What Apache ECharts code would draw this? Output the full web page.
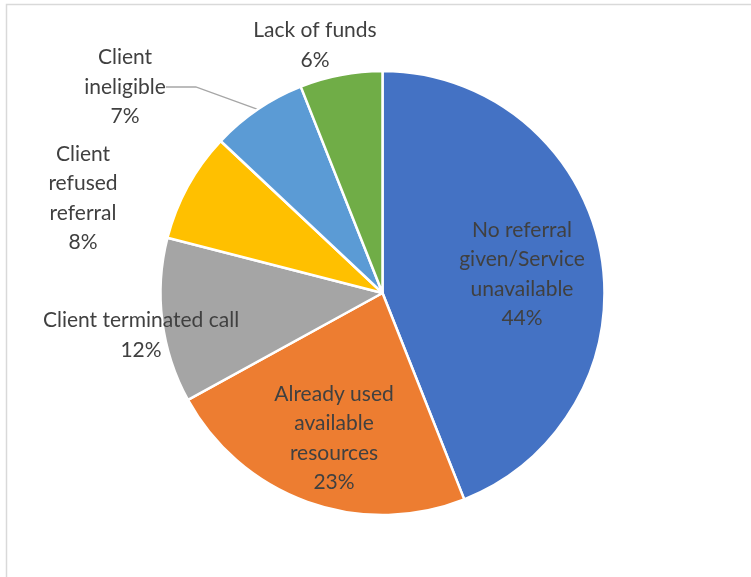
<!DOCTYPE html>
<html>
<head>
<meta charset="utf-8">
<script src="https://cdn.jsdelivr.net/npm/echarts@6/dist/echarts.min.js"></script>
<style>
  html, body { margin: 0; padding: 0; background: #fff; }
  #chart { width: 751px; height: 577px; }
</style>
</head>
<body>
<div id="chart"></div>
<script>
// slice names and shares (%) clockwise from 12 o'clock
var reasons = [
    'No referral\ngiven/Service\nunavailable',
    'Already used\navailable\nresources',
    'Client terminated call',
    'Client\nrefused\nreferral',
    'Client\nineligible',
    'Lack of funds'
];
var shares = [44, 23, 12, 8, 7, 6];
var colors = ['#4472C4', '#ED7D31', '#A5A5A5', '#FFC000', '#5B9BD5', '#70AD47'];

// where Excel put each label (centre of text block)
var labelSpots = [[522, 274], [334, 438], [141, 335], [83, 198], [125, 87], [315, 45]];

var myChart = echarts.init(document.getElementById('chart'));

var pieData = shares.map(function (v, i) {
    return {
        value: v,
        name: reasons[i],
        itemStyle: { color: colors[i] },
        labelLine: { show: i === 4 }
    };
});

var option = {
    backgroundColor: '#fff',
    animation: false,
    // chart area frame, only top and left edges are visible
    graphic: [{
        type: 'rect',
        shape: { x: 6.5, y: 4.5, width: 800, height: 650 },
        style: { fill: 'none', stroke: '#d9d9d9', lineWidth: 1.5 }
    }],
    series: [{
        type: 'pie',
        center: [382.5, 293],
        radius: 222,
        startAngle: 90,
        clockwise: true,
        itemStyle: { borderColor: '#fff', borderWidth: 2.5 },
        label: {
            show: true,
            position: 'outside',
            formatter: function (p) { return p.name + '\n' + p.value + '%'; },
            fontFamily: 'Lato',
            fontSize: 21,
            lineHeight: 29.5,
            color: '#404040',
            align: 'center',
            overflow: 'none'
        },
        labelLine: {
            show: false,
            lineStyle: { color: '#a6a6a6', width: 1.3 }
        },
        labelLayout: function (p) {
            var s = labelSpots[p.dataIndex];
            return { x: s[0], y: s[1], align: 'center', verticalAlign: 'middle' };
        },
        data: pieData
    }]
};

myChart.setOption(option);
</script>
</body>
</html>
